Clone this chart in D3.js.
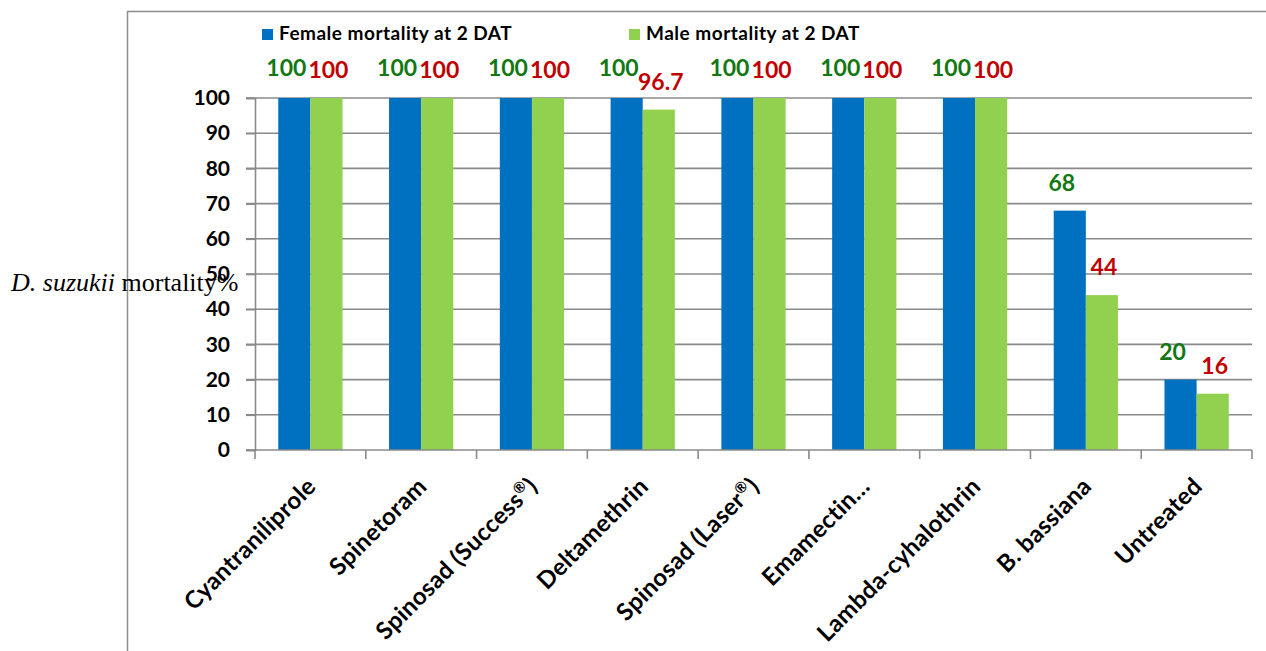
<!DOCTYPE html>
<html>
<head>
<meta charset="utf-8">
<script src="https://cdn.jsdelivr.net/npm/d3@7"></script>
<style>
  html, body { margin: 0; padding: 0; background: #fff; }
  svg { display: block; }
</style>
</head>
<body>
<svg id="chart" width="1266" height="651"></svg>
<script>
// Treatments and mortality (%) two days after treatment
const categories = ["Cyantraniliprole", "Spinetoram", "Spinosad (Success®)", "Deltamethrin",
  "Spinosad (Laser®)", "Emamectin…", "Lambda-cyhalothrin", "B. bassiana", "Untreated"];
const femaleMortality = [100, 100, 100, 100, 100, 100, 100, 68, 20];
const maleMortality   = [100, 100, 100, 96.7, 100, 100, 100, 44, 16];
const seriesNames = ["Female mortality at 2 DAT", "Male mortality at 2 DAT"];
const yTicks = [0, 10, 20, 30, 40, 50, 60, 70, 80, 90, 100];

const colors = ["#0070C0", "#92D050"];
const labelColors = ["#137813", "#C00000"];
const font = "Lato, 'Open Sans', sans-serif";
const gridColor = "#8a8a8a";

const svg = d3.select("#chart");
const plot = { left: 255, right: 1252, top: 98, bottom: 450 };

// outer frame of the chart area
svg.append("path")
  .attr("d", `M127.5,651 V11.5 H1266`)
  .attr("fill", "none").attr("stroke", "#8c8c8c").attr("stroke-width", 1.5);

const x = d3.scaleBand().domain(categories)
  .range([plot.left, plot.right]).paddingInner(0.42).paddingOuter(0.21);
const xs = d3.scaleBand().domain([0, 1]).range([0, x.bandwidth()]);
const y = d3.scaleLinear().domain([0, 100]).range([plot.bottom, plot.top]);

// horizontal gridlines with short outside ticks
svg.append("g").selectAll("line").data(yTicks.filter(t => t > 0)).join("line")
  .attr("x1", plot.left - 9).attr("x2", plot.right)
  .attr("y1", d => y(d)).attr("y2", d => y(d))
  .attr("stroke", gridColor).attr("stroke-width", 1.6);

// y axis
const yAxis = svg.append("g").attr("transform", `translate(${plot.left},0)`)
  .call(d3.axisLeft(y).tickValues(yTicks).tickSize(9).tickPadding(16));
yAxis.select(".domain").attr("stroke", gridColor).attr("stroke-width", 1.6);
yAxis.selectAll(".tick line").attr("stroke", gridColor).attr("stroke-width", 1.6);
yAxis.selectAll(".tick text")
  .attr("font-family", font).attr("font-weight", "bold").attr("font-size", 21).attr("fill", "#000");

// bars
const groups = svg.append("g").selectAll("g").data(categories).join("g")
  .attr("transform", d => `translate(${x(d)},0)`);
const series = [femaleMortality, maleMortality];
groups.selectAll("rect")
  .data((d, i) => series.map((s, k) => ({ k, v: s[i] })))
  .join("rect")
  .attr("x", d => xs(d.k)).attr("width", xs.bandwidth())
  .attr("y", d => y(d.v)).attr("height", d => y(0) - y(d.v))
  .attr("fill", d => colors[d.k]);

// x axis with ticks between categories
const xAxisG = svg.append("g").attr("transform", `translate(0,${plot.bottom})`);
xAxisG.append("line").attr("x1", plot.left - 9).attr("x2", plot.right)
  .attr("stroke", gridColor).attr("stroke-width", 1.6);
const bounds = categories.map(c => x(c) - x.step() * x.paddingInner() / 2)
  .concat([plot.right]);
xAxisG.selectAll("line.tk").data(bounds).join("line").attr("class", "tk")
  .attr("x1", d => d).attr("x2", d => d).attr("y1", 0).attr("y2", 9)
  .attr("stroke", gridColor).attr("stroke-width", 1.6);

// rotated category labels (registered mark drawn as superscript)
const catLabels = xAxisG.selectAll("text").data(categories).join("text")
  .attr("transform", d => `translate(${x(d) + x.bandwidth() / 2 + 7},${38}) rotate(-45)`)
  .attr("text-anchor", "end")
  .attr("font-family", font).attr("font-weight", "bold").attr("font-size", 24)
  .attr("letter-spacing", 0.3)
  .attr("fill", "#000");
catLabels.each(function (d) {
  const t = d3.select(this);
  const parts = d.split("®");
  parts.forEach((p, i) => {
    if (i > 0) {
      t.append("tspan").attr("font-size", 15).attr("dy", -9).text("®");
      t.append("tspan").attr("dy", 9).text(p);
    } else {
      t.append("tspan").text(p);
    }
  });
});

// value labels over the bars
groups.selectAll("text.val")
  .data((d, i) => series.map((s, k) => ({ k, v: s[i] })))
  .join("text").attr("class", "val")
  .attr("x", d => xs(d.k) + xs.bandwidth() / 2 + (d.k === 0 ? -8 : 2))
  .attr("y", d => y(d.v) - 20 - (d.k === 0 && d.v === 100 ? 2 : 0))
  .attr("text-anchor", "middle")
  .attr("font-family", font).attr("font-weight", "bold").attr("font-size", 23)
  .attr("fill", d => labelColors[d.k])
  .text(d => d.v);

// legend
const legendX = [262, 629];
const legend = svg.append("g").selectAll("g").data(seriesNames).join("g")
  .attr("transform", (d, i) => `translate(${legendX[i]},29)`);
legend.append("rect").attr("width", 11).attr("height", 11).attr("fill", (d, i) => colors[i]);
legend.append("text").attr("x", 17).attr("y", 11)
  .attr("font-family", font).attr("font-weight", "bold").attr("font-size", 19)
  .attr("letter-spacing", 0.5).attr("fill", "#000")
  .text(d => d);

// y axis title
const title = svg.append("text").attr("x", 11).attr("y", 291)
  .attr("font-family", "'Liberation Serif', 'Times New Roman', serif").attr("font-size", 26).attr("fill", "#000");
title.append("tspan").attr("font-style", "italic").text("D. suzukii");
title.append("tspan").text(" mortality%");
</script>
</body>
</html>
